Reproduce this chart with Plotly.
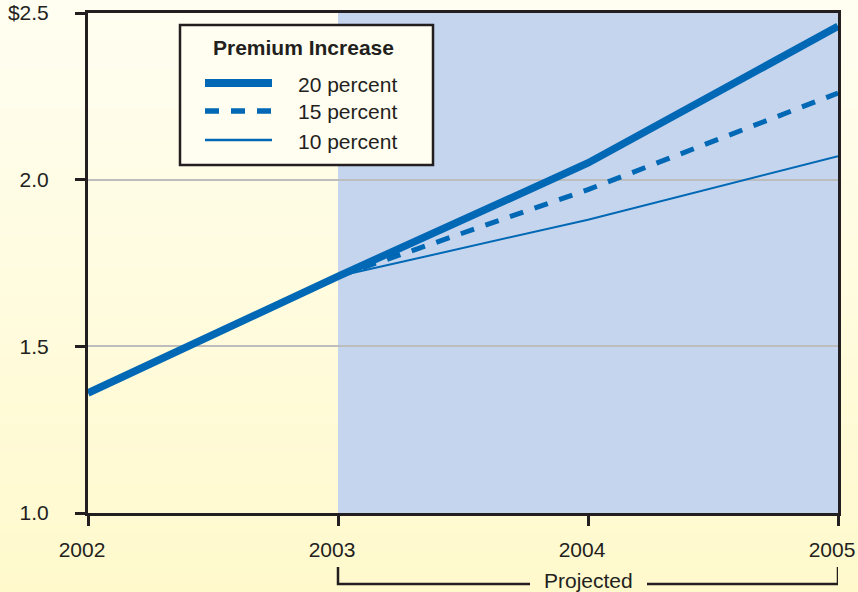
import plotly.graph_objects as go

# Health premium projections (dollars), actual through 2003, projected after
years = [2002, 2003, 2004, 2005]
premium_20 = [1.36, 1.71, 2.05, 2.46]
premium_15 = [None, 1.71, 1.97, 2.26]
premium_10 = [None, 1.71, 1.88, 2.07]
series_names = ["20 percent", "15 percent", "10 percent"]
ytick_vals = [1.0, 1.5, 2.0, 2.5]
ytick_text = ["1.0", "1.5", "2.0", "$2.5"]
legend_title = "Premium Increase"
projected_label = "Projected"

BLUE = "#0068B4"
INK = "#231F20"
FONT = "Liberation Sans, Arial, Helvetica, sans-serif"
FS = 21

W, H = 858, 592
ML, MR, MT, MB = 88, 20, 13, 79
PW, PH = W - ML - MR, H - MT - MB


def px_x(p):
    return (p - ML) / PW


def px_y(p):
    return (H - MB - p) / PH


styles = [
    dict(width=7.5, dash="solid"),
    dict(width=5, dash="14px,12px"),
    dict(width=2, dash="solid"),
]
values = [premium_20, premium_15, premium_10]

fig = go.Figure()
# thin lines first so the thick one sits on top
for name, vals, st in reversed(list(zip(series_names, values, styles))):
    fig.add_trace(go.Scatter(
        x=years, y=vals, mode="lines", name=name, showlegend=False,
        line=dict(color=BLUE, width=st["width"], dash=st["dash"]),
        hoverinfo="x+y+name",
    ))

shapes = []
# vertical cream-to-yellow background gradient
top_rgb = (255, 254, 241)
bot_rgb = (255, 249, 204)
n = 60
y_lo, y_hi = px_y(H), px_y(0)
for i in range(n):
    t = (i + 0.5) / n
    r = round(bot_rgb[0] + (top_rgb[0] - bot_rgb[0]) * t)
    g = round(bot_rgb[1] + (top_rgb[1] - bot_rgb[1]) * t)
    b = round(bot_rgb[2] + (top_rgb[2] - bot_rgb[2]) * t)
    shapes.append(dict(
        type="rect", xref="paper", yref="paper", layer="below",
        x0=px_x(0), x1=px_x(W),
        y0=y_lo + (y_hi - y_lo) * i / n, y1=y_lo + (y_hi - y_lo) * (i + 1) / n + 0.002,
        fillcolor=f"rgb({r},{g},{b})", line=dict(width=0),
    ))

# projected period band
shapes.append(dict(
    type="rect", xref="x", yref="paper", layer="below",
    x0=2003, x1=2005, y0=0, y1=1,
    fillcolor="#C6D5EE", line=dict(width=0),
))

# legend box
shapes.append(dict(
    type="rect", xref="paper", yref="paper", layer="above",
    x0=px_x(180), x1=px_x(433), y0=px_y(165), y1=px_y(25),
    fillcolor="#FFFEF1", line=dict(color=INK, width=2.5),
))
legend_rows = [83, 111, 140]
for row, st in zip(legend_rows, styles):
    shapes.append(dict(
        type="line", xref="paper", yref="paper", layer="above",
        x0=px_x(205), x1=px_x(272), y0=px_y(row), y1=px_y(row),
        line=dict(color=BLUE, width=st["width"] + 0.5, dash=st["dash"]),
    ))

# bracket marking the projected years
yb_top, yb_bot = px_y(567), px_y(584)
shapes.append(dict(
    type="path", xref="x", yref="paper", layer="above",
    path=f"M 2003,{yb_top} L 2003,{yb_bot} L 2003.768,{yb_bot}",
    line=dict(color=INK, width=2.5),
))
shapes.append(dict(
    type="path", xref="x", yref="paper", layer="above",
    path=f"M 2004.236,{yb_bot} L 2005,{yb_bot} L 2005,{yb_top}",
    line=dict(color=INK, width=2.5),
))

annotations = [
    dict(text=f"<b>{legend_title}</b>", xref="paper", yref="paper",
         x=px_x(303), y=px_y(48), xanchor="center", yanchor="middle",
         showarrow=False, font=dict(size=FS, color=INK, family=FONT)),
    dict(text=projected_label, xref="x", yref="paper",
         x=2004, y=px_y(580), xanchor="center", yanchor="middle",
         showarrow=False, font=dict(size=FS, color=INK, family=FONT)),
]
for row, name in zip(legend_rows, series_names):
    annotations.append(dict(
        text=name, xref="paper", yref="paper",
        x=px_x(296), y=px_y(row + 1), xanchor="left", yanchor="middle",
        showarrow=False, font=dict(size=FS, color=INK, family=FONT),
    ))

fig.update_layout(
    width=W, height=H,
    margin=dict(l=ML, r=MR, t=MT, b=MB, pad=0, autoexpand=False),
    paper_bgcolor="rgb(255,252,222)",
    plot_bgcolor="rgba(0,0,0,0)",
    font=dict(family=FONT, size=FS, color=INK),
    showlegend=False,
    shapes=shapes,
    annotations=annotations,
    xaxis=dict(
        range=[2002, 2005], tickvals=years, ticktext=[str(y) for y in years],
        ticks="outside", ticklen=10, tickwidth=2.5, tickcolor=INK,
        showline=True, linewidth=3, linecolor=INK, mirror=True,
        showgrid=False, zeroline=False, ticklabelshift=-6, ticklabelstandoff=6,
        automargin=False,
        tickfont=dict(size=FS, color=INK, family=FONT),
    ),
    yaxis=dict(
        range=[1.0, 2.5], tickvals=ytick_vals, ticktext=ytick_text,
        ticks="outside", ticklen=10, tickwidth=2.5, tickcolor=INK,
        showline=True, linewidth=3, linecolor=INK, mirror=True,
        showgrid=True, gridcolor="#BDBDBD", gridwidth=2, zeroline=False,
        ticklabelstandoff=22, automargin=False,
        tickfont=dict(size=FS, color=INK, family=FONT),
    ),
)

fig.write_html("out.html")
